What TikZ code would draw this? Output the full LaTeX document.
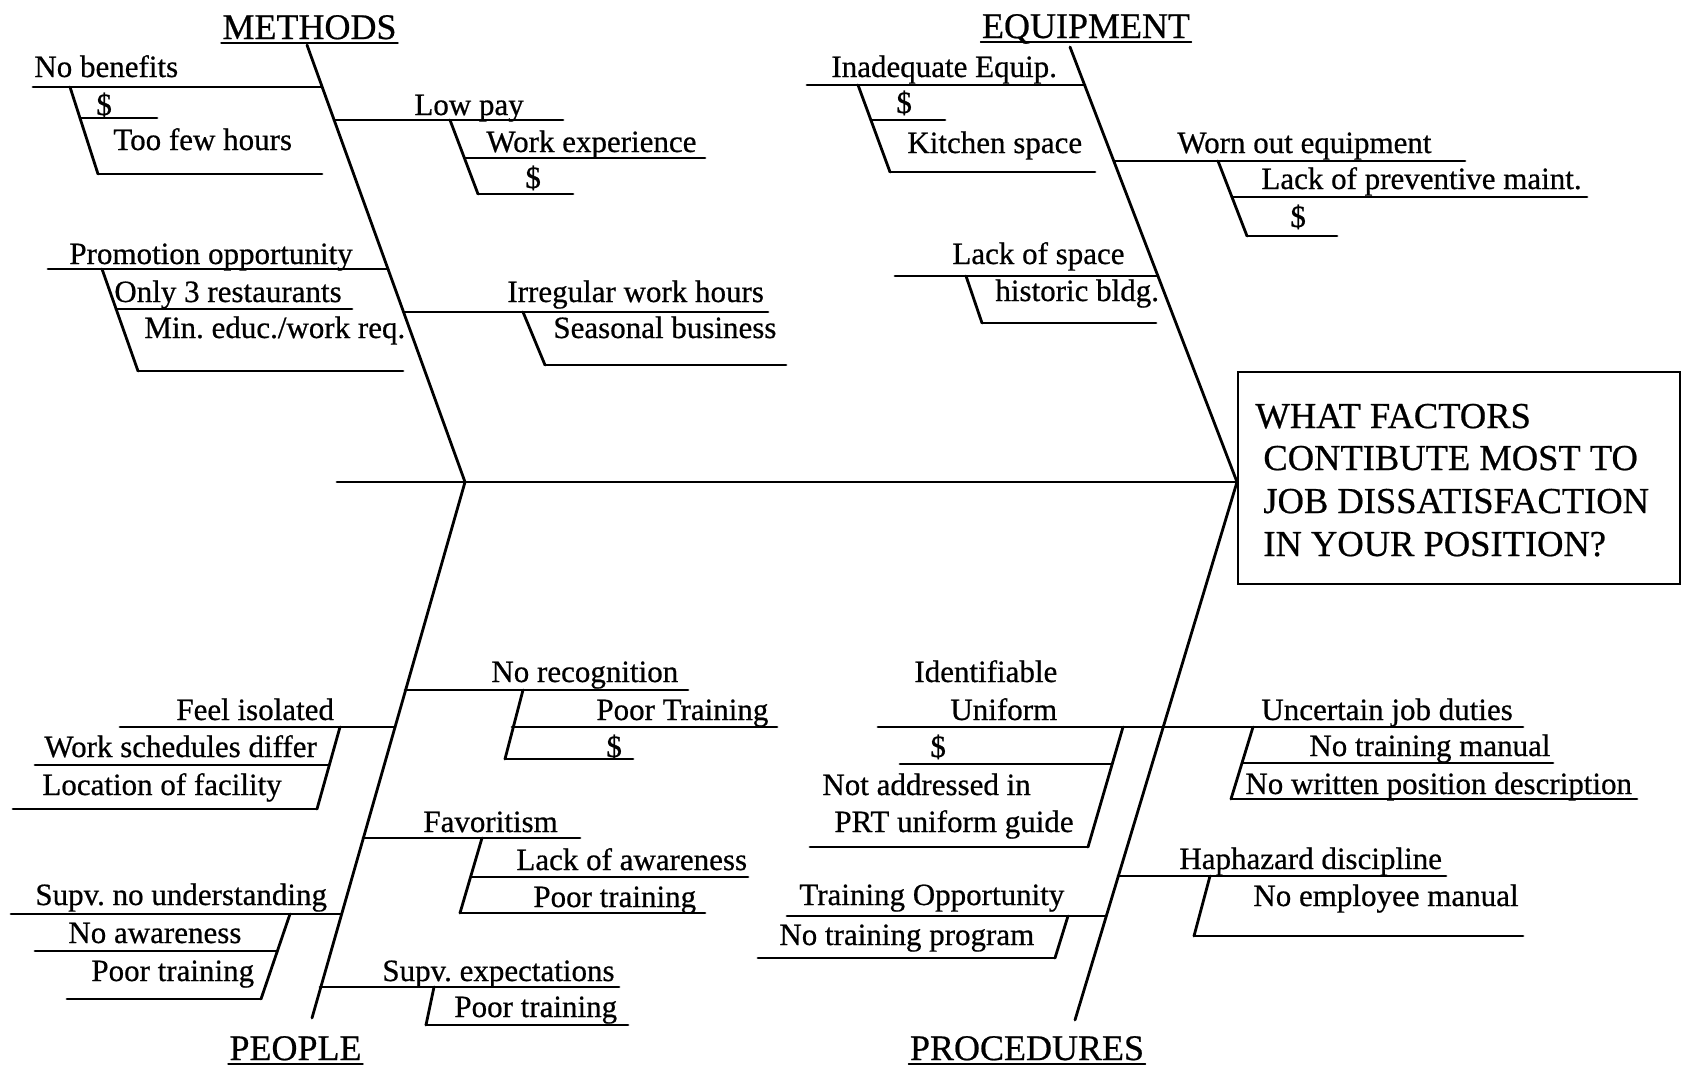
\documentclass[tikz,border=0pt]{standalone}
\usepackage{fontspec}
\setmainfont{Liberation Serif}[FakeBold=0.6]
\frenchspacing
\begin{document}
\begin{tikzpicture}[x=1pt,y=-1pt,line width=2.8pt,line cap=round,
  lbl/.style={anchor=base west,inner sep=0pt,font=\fontsize{31}{35}\selectfont},
  hdr/.style={anchor=base,inner sep=0pt,font=\fontsize{36}{40}\selectfont},
  big/.style={anchor=base west,inner sep=0pt,font=\fontsize{36.5}{40}\selectfont},
  uline/.style={line width=1.6pt}]
\useasboundingbox (0,0) rectangle (1686,1068);
% spine, box, bones
\draw (337,482) -- (1237,482);
\draw (1238,372) rectangle (1680,584);
\draw (307,45) -- (465,482);
\draw (1070,47) -- (1237,482);
\draw (465,482) -- (312,1018);
\draw (1237,482) -- (1075,1020);
% headers
\node[hdr] (hm) at (309.5,39) {METHODS};
\node[hdr] (he) at (1086,38) {EQUIPMENT};
\node[hdr] (hp) at (295.5,1060) {PEOPLE};
\node[hdr] (hr) at (1027,1060) {PROCEDURES};
\foreach \n in {hm,he,hp,hr}{\draw[uline] ([yshift=-4pt]\n.base west) -- ([yshift=-4pt]\n.base east);}
% box text
\node[big] (q1) at (1254,428) {WHAT FACTORS};
\node[big] (q2) at (1262,470) {CONTIBUTE MOST TO};
\node[big] (q3) at (1262,513) {JOB DISSATISFACTION};
\node[big] (q4) at (1262,556) {IN YOUR POSITION?};
% METHODS
\draw (33,87) -- (322,87);
\draw (70,87) -- (98,174);
\draw (80,118) -- (157,118);
\draw (98,174) -- (322,174);
\node[lbl] (m1) at (33,77) {No benefits};
\node[lbl] (m1a) at (95,115) {\$};
\node[lbl] (m1b) at (112,150) {Too few hours};
\draw (334,120) -- (563,120);
\draw (450,120) -- (478,194);
\draw (465,158) -- (705,158);
\draw (478,194) -- (573,194);
\node[lbl] (m2) at (413,115) {Low pay};
\node[lbl] (m2a) at (485,152) {Work experience};
\node[lbl] (m2b) at (524,188) {\$};
\draw (48,269) -- (388,269);
\draw (102,269) -- (138,371);
\draw (116,309) -- (352,309);
\draw (138,371) -- (403,371);
\node[lbl] (m3) at (68,264) {Promotion opportunity};
\node[lbl] (m3a) at (113,302) {Only 3 restaurants};
\node[lbl] (m3b) at (143,338) {Min. educ./work req.};
\draw (404,312) -- (768,312);
\draw (523,312) -- (545,365);
\draw (545,365) -- (786,365);
\node[lbl] (m4) at (506,302) {Irregular work hours};
\node[lbl] (m4a) at (552,338) {Seasonal business};
% EQUIPMENT
\draw (807,85) -- (1085,85);
\draw (858,85) -- (890,172);
\draw (871,120) -- (945,120);
\draw (890,172) -- (1095,172);
\node[lbl] (e1) at (830,77) {Inadequate Equip.};
\node[lbl] (e1a) at (895,113) {\$};
\node[lbl] (e1b) at (906,153) {Kitchen space};
\draw (1114,161) -- (1465,161);
\draw (1218,161) -- (1247,236);
\draw (1232,197) -- (1587,197);
\draw (1247,236) -- (1337,236);
\node[lbl] (e2) at (1176,153) {Worn out equipment};
\node[lbl] (e2a) at (1260,189) {Lack of preventive maint.};
\node[lbl] (e2b) at (1289,227) {\$};
\draw (895,276) -- (1158,276);
\draw (966,276) -- (982,323);
\draw (982,323) -- (1156,323);
\node[lbl] (e3) at (951,264) {Lack of space};
\node[lbl] (e3a) at (994,301) {historic bldg.};
% PEOPLE
\draw (405,690) -- (688,690);
\draw (523,690) -- (505,759);
\draw (512,727) -- (777,727);
\draw (505,759) -- (633,759);
\node[lbl] (p1) at (490,682) {No recognition};
\node[lbl] (p1a) at (595,720) {Poor Training};
\node[lbl] (p1b) at (605,757) {\$};
\draw (120,727) -- (395,727);
\draw (340,727) -- (317,809);
\draw (35,765) -- (329,765);
\draw (13,809) -- (317,809);
\node[lbl] (p2) at (175,720) {Feel isolated};
\node[lbl] (p2a) at (43,757) {Work schedules differ};
\node[lbl] (p2b) at (41,795) {Location of facility};
\draw (363,838) -- (580,838);
\draw (482,838) -- (460,913);
\draw (471,877) -- (748,877);
\draw (460,913) -- (705,913);
\node[lbl] (p3) at (422,832) {Favoritism};
\node[lbl] (p3a) at (515,870) {Lack of awareness};
\node[lbl] (p3b) at (532,907) {Poor training};
\draw (11,914) -- (341,914);
\draw (290,914) -- (261,999);
\draw (35,951) -- (277,951);
\draw (67,999) -- (261,999);
\node[lbl] (p4) at (34,905) {Supv. no understanding};
\node[lbl] (p4a) at (67,943) {No awareness};
\node[lbl] (p4b) at (90,981) {Poor training};
\draw (320,987) -- (619,987);
\draw (434,987) -- (426,1025);
\draw (426,1025) -- (628,1025);
\node[lbl] (p5) at (381,981) {Supv. expectations};
\node[lbl] (p5a) at (453,1017) {Poor training};
% PROCEDURES
\draw (878,727) -- (1523,727);
\draw (1123,727) -- (1088,847);
\draw (900,764) -- (1112,764);
\draw (810,847) -- (1088,847);
\node[lbl] (r1) at (913,682) {Identifiable};
\node[lbl] (r1u) at (949,720) {Uniform};
\node[lbl] (r1a) at (929,757) {\$};
\node[lbl] (r1b) at (821,795) {Not addressed in};
\node[lbl] (r1c) at (833,832) {PRT uniform guide};
\draw (1253,727) -- (1231,799);
\draw (1242,763) -- (1553,763);
\draw (1231,799) -- (1637,799);
\node[lbl] (r2) at (1260,720) {Uncertain job duties};
\node[lbl] (r2a) at (1308,756) {No training manual};
\node[lbl] (r2b) at (1244,794) {No written position description};
\draw (1118,876) -- (1446,876);
\draw (1210,876) -- (1194,936);
\draw (1194,936) -- (1523,936);
\node[lbl] (r3) at (1178,869) {Haphazard discipline};
\node[lbl] (r3a) at (1252,906) {No employee manual};
\draw (787,916) -- (1106,916);
\draw (1068,916) -- (1055,958);
\draw (758,958) -- (1055,958);
\node[lbl] (r4) at (798,905) {Training Opportunity};
\node[lbl] (r4a) at (778,945) {No training program};
\end{tikzpicture}
\end{document}
